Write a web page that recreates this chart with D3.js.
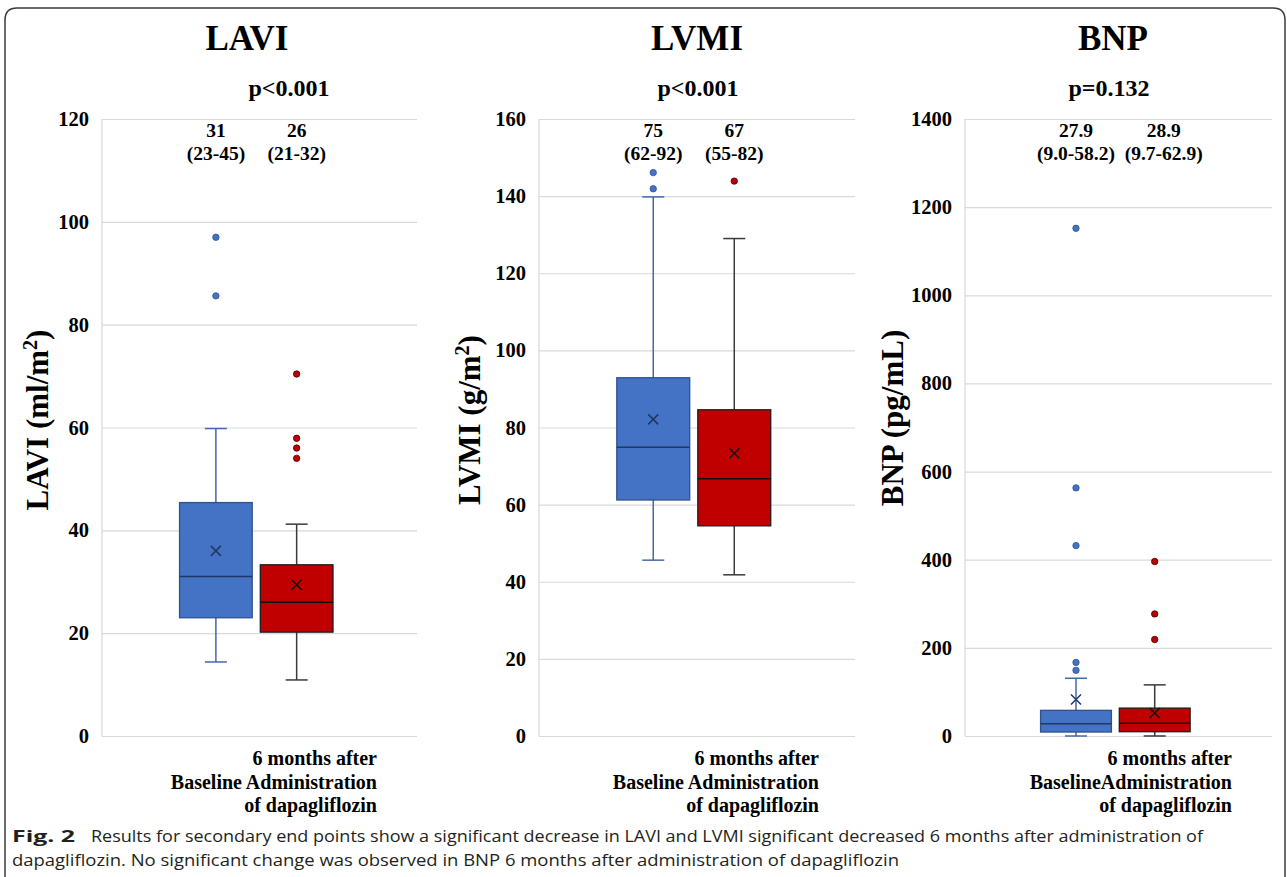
<!DOCTYPE html>
<html>
<head>
<meta charset="utf-8">
<script src="https://cdn.jsdelivr.net/npm/d3@7"></script>
<style>
  body { margin: 0; background: #fff; }
</style>
</head>
<body>
<script>
// chart values
var titles = ["LAVI", "LVMI", "BNP"];
var pValues = ["p<0.001", "p<0.001", "p=0.132"];
var axisTitles = [["LAVI (ml/m", "2", ")"], ["LVMI (g/m", "2", ")"], ["BNP (pg/mL)", "", ""]];
var groups = ["Baseline", "6 months after Administration of dapagliflozin"];
var afterLines = ["6 months after", "Administration", "of dapagliflozin"];
var yMax = [120, 160, 1400];
var yStep = [20, 20, 200];

// [min, q1, median, q3, max] for baseline / after
var laviBox = [[14.4, 23.0, 31.0, 45.4, 59.8], [10.9, 20.2, 26.0, 33.3, 41.2]];
var laviMean = [36.0, 29.4];
var laviOutliers = [[85.6, 97.0], [54.0, 56.0, 57.9, 70.4]];
var laviLabels = [["31", "(23-45)"], ["26", "(21-32)"]];

var lvmiBox = [[45.6, 61.2, 74.9, 92.9, 139.8], [41.8, 54.5, 66.7, 84.6, 129.0]];
var lvmiMean = [82.1, 73.3];
var lvmiOutliers = [[141.9, 146.1], [143.9]];
var lvmiLabels = [["75", "(62-92)"], ["67", "(55-82)"]];

var bnpBox = [[0, 9.0, 27.9, 58.2, 131], [0, 9.7, 28.9, 63.3, 116]];
var bnpMean = [83, 52];
var bnpOutliers = [[149, 167, 432, 563, 1152], [219, 277, 396]];
var bnpLabels = [["27.9", "(9.0-58.2)"], ["28.9", "(9.7-62.9)"]];

var boxes = [laviBox, lvmiBox, bnpBox];
var means = [laviMean, lvmiMean, bnpMean];
var outliers = [laviOutliers, lvmiOutliers, bnpOutliers];
var medLabels = [laviLabels, lvmiLabels, bnpLabels];

// page layout
var width = 1287, height = 877;
var plotTop = 119, plotBottom = 736;
var layout = [
  {left: 102, right: 417, titleX: 247, pX: 289, axisX: 48, axisY: 420, labelEnd: 377, shift: 0, sep: " "},
  {left: 539, right: 855, titleX: 697, pX: 698, axisX: 480, axisY: 420, labelEnd: 819, shift: 0, sep: " "},
  {left: 965, right: 1272, titleX: 1113, pX: 1109, axisX: 903, axisY: 418, labelEnd: 1232, shift: 9, sep: ""}
];
var serif = "'Liberation Serif', 'Times New Roman', serif";
var fills = ["#4472c4", "#c00000"];
var strokes = ["#2f528f", "#1e1e1e"];
var whiskerCol = ["#4468a8", "#3a3a3a"];
var medianCol = ["#1f3864", "#111"];
var dotStroke = ["#2f528f", "#400000"];

var svg = d3.select("body").append("svg")
            .attr("width", width)
            .attr("height", height);

svg.append("rect").attr("width", width).attr("height", height).attr("fill", "#fff");

// frame with rounded top corners, open at bottom
svg.append("path")
   .attr("d", "M5,880 L5,20 Q5,8 17,8 L1273,8 Q1285,8 1285,20 L1285,880")
   .attr("fill", "none")
   .attr("stroke", "#3a3a3a")
   .attr("stroke-width", 1.5);

titles.forEach(function(t, i) {
    var L = layout[i];
    var g = svg.append("g");
    var y = d3.scaleLinear().domain([0, yMax[i]]).range([plotBottom, plotTop]);
    var x = d3.scaleBand().domain(groups).range([L.left, L.right])
              .paddingInner(0.1).paddingOuter(1).align(0.48);
    var bw = x.bandwidth();

    // gridlines + tick labels
    var ax = g.append("g")
              .attr("transform", "translate(" + L.left + ",0)")
              .call(d3.axisLeft(y)
                      .tickValues(d3.range(0, yMax[i] + 1, yStep[i]))
                      .tickFormat(d3.format("d"))
                      .tickSize(-(L.right - L.left))
                      .tickPadding(13));
    ax.select(".domain").remove();
    ax.selectAll("line").attr("stroke", "#d9d9d9").attr("stroke-width", 1.2);
    ax.selectAll("text")
      .style("font-family", serif).style("font-weight", "bold")
      .style("font-size", "20.5px").attr("fill", "#000");
    g.append("line")
     .attr("x1", L.left).attr("x2", L.left)
     .attr("y1", plotTop).attr("y2", plotBottom)
     .attr("stroke", "#d9d9d9").attr("stroke-width", 1.2);

    // title, p value
    g.append("text").text(t)
     .attr("x", L.titleX).attr("y", 50)
     .attr("text-anchor", "middle")
     .style("font-family", serif).style("font-weight", "bold").style("font-size", "35px");
    g.append("text").text(pValues[i])
     .attr("x", L.pX).attr("y", 96)
     .attr("text-anchor", "middle")
     .style("font-family", serif).style("font-weight", "bold").style("font-size", "24px");

    // y axis title
    var at = g.append("text")
              .attr("transform", "translate(" + L.axisX + "," + L.axisY + ") rotate(-90)")
              .attr("text-anchor", "middle")
              .style("font-family", serif).style("font-weight", "bold").style("font-size", "31px");
    at.append("tspan").text(axisTitles[i][0]);
    if (axisTitles[i][1]) {
        at.append("tspan").text(axisTitles[i][1]).attr("dy", -11).style("font-size", "20px");
        at.append("tspan").text(axisTitles[i][2]).attr("dy", 11);
    }

    // category labels
    var lines = [afterLines[0], groups[0] + L.sep + afterLines[1], afterLines[2]];
    lines.forEach(function(s, k) {
        g.append("text").text(s)
         .attr("x", L.labelEnd).attr("y", 765 + k * 23.5)
         .attr("text-anchor", "end")
         .style("font-family", serif).style("font-weight", "bold").style("font-size", "20px");
    });

    // boxes
    groups.forEach(function(gr, j) {
        var b = boxes[i][j];
        var x0 = x(gr), cx = x0 + bw / 2;
        var cap = 11;
        // whiskers
        [[b[3], b[4]], [b[1], b[0]]].forEach(function(w) {
            g.append("line").attr("x1", cx).attr("x2", cx)
             .attr("y1", y(w[0])).attr("y2", y(w[1]))
             .attr("stroke", whiskerCol[j]).attr("stroke-width", 1.5);
            g.append("line").attr("x1", cx - cap).attr("x2", cx + cap)
             .attr("y1", y(w[1])).attr("y2", y(w[1]))
             .attr("stroke", whiskerCol[j]).attr("stroke-width", 1.5);
        });
        g.append("rect")
         .attr("x", x0).attr("y", y(b[3]))
         .attr("width", bw).attr("height", y(b[1]) - y(b[3]))
         .attr("fill", fills[j]).attr("stroke", strokes[j]).attr("stroke-width", 1.3);
        g.append("line").attr("x1", x0).attr("x2", x0 + bw)
         .attr("y1", y(b[2])).attr("y2", y(b[2]))
         .attr("stroke", medianCol[j]).attr("stroke-width", 1.5);
        // mean marker
        var my = y(means[i][j]), s = 5;
        g.append("path")
         .attr("d", "M" + (cx - s) + "," + (my - s) + "L" + (cx + s) + "," + (my + s) +
                    "M" + (cx - s) + "," + (my + s) + "L" + (cx + s) + "," + (my - s))
         .attr("stroke", medianCol[j]).attr("stroke-width", 1.5);
        // outliers
        g.selectAll(null).data(outliers[i][j]).enter().append("circle")
         .attr("cx", cx).attr("cy", function(d) { return y(d); })
         .attr("r", 3.2)
         .attr("fill", fills[j]).attr("stroke", dotStroke[j]).attr("stroke-width", 0.8);
        // median (IQR) labels
        var lx = cx + (j === 1 ? L.shift : 0);
        medLabels[i][j].forEach(function(s2, k) {
            g.append("text").text(s2)
             .attr("x", lx).attr("y", 137 + k * 23)
             .attr("text-anchor", "middle")
             .style("font-family", serif).style("font-weight", "bold").style("font-size", "19.5px");
        });
    });
});

// caption
var cap = svg.append("g").style("font-family", "'Open Sans', 'Noto Sans', sans-serif").attr("fill", "#231f20");
cap.append("text").text("Fig. 2")
   .attr("x", 12).attr("y", 842)
   .attr("textLength", 63).attr("lengthAdjust", "spacingAndGlyphs")
   .style("font-weight", "bold").style("font-size", "16px");
cap.append("text").text("Results for secondary end points show a significant decrease in LAVI and LVMI significant decreased 6 months after administration of")
   .attr("x", 91).attr("y", 842)
   .attr("textLength", 1112).attr("lengthAdjust", "spacingAndGlyphs")
   .style("font-size", "16px");
cap.append("text").text("dapagliflozin. No significant change was observed in BNP 6 months after administration of dapagliflozin")
   .attr("x", 12).attr("y", 866)
   .attr("textLength", 887).attr("lengthAdjust", "spacingAndGlyphs")
   .style("font-size", "16px");
</script>
</body>
</html>
